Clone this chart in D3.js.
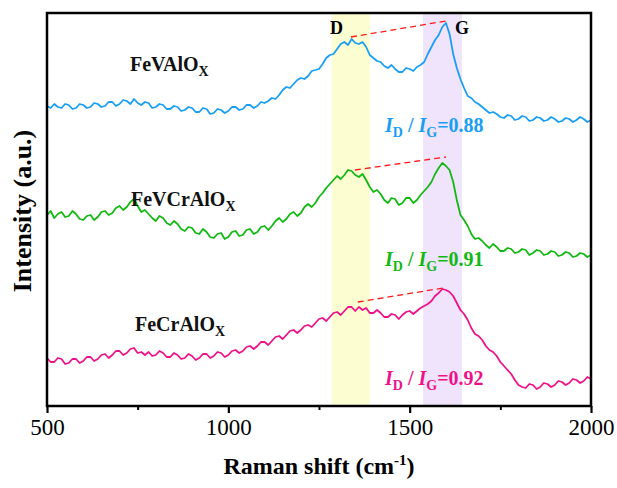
<!DOCTYPE html>
<html>
<head>
<meta charset="utf-8">
<script src="https://cdn.jsdelivr.net/npm/d3@7"></script>
<style>
  body { margin: 0; background: #fff; }
  svg { display: block; font-family: "Liberation Serif", "Times New Roman", serif; }
</style>
</head>
<body>
<script>
// raman shift sampling grid (cm-1), every 10 from 500 to 2000
var shift = d3.range(500, 2001, 10)

// intensities (a.u., stacked offsets included), one per grid point
var feVAlOx = [300,298,302,299,298,302,301,297,298,302,
               301,298,299,303,302,299,300,304,304,300,
               302,306,305,302,307,303,301,304,303,298,
               299,302,301,297,297,300,299,295,296,299,
               298,294,294,298,297,292,293,297,296,293,
               295,299,299,296,297,301,301,298,300,304,
               303,305,308,307,311,316,319,318,322,326,
               328,327,330,335,336,337,342,348,351,352,
               357,362,364,361,367,363,362,364,359,351,
               348,345,344,340,338,341,337,334,334,338,
               337,335,339,341,344,352,359,366,371,379,
               383,372,352,338,327,318,310,308,304,302,
               299,296,293,294,292,289,288,291,290,286,
               287,290,289,285,286,289,288,285,286,289,
               287,284,285,288,287,284,286,289,287,284,
               286]
var feVCrAlOx = [191,195,188,192,194,189,190,195,192,187,
                 186,190,191,186,189,194,195,191,193,198,
                 200,196,199,204,207,200,194,196,192,188,
                 185,190,188,183,181,185,182,177,175,179,
                 178,173,172,177,174,169,168,172,173,167,
                 169,174,175,170,171,176,177,172,174,179,
                 180,176,180,185,188,184,187,192,194,190,
                 193,199,202,199,203,209,213,218,222,226,
                 230,227,231,236,235,231,229,232,226,219,
                 214,216,212,206,203,208,207,201,203,208,
                 208,203,206,211,215,219,224,232,238,243,
                 240,236,224,206,191,186,180,172,167,168,
                 165,161,158,162,159,155,155,158,157,153,
                 154,157,156,151,153,156,155,151,152,155,
                 154,150,151,154,153,149,150,153,152,149,
                 151]
var feCrAlOx = [48,44,44,48,47,42,43,47,47,43,
                45,49,49,45,47,51,52,48,51,55,
                55,51,53,57,58,53,54,51,54,50,
                51,55,53,49,49,53,51,47,48,52,
                50,46,48,52,52,48,50,54,53,49,
                51,55,56,53,55,59,60,57,60,64,
                64,61,65,69,70,67,71,75,76,73,
                76,80,81,79,83,87,88,85,89,93,
                94,91,95,99,99,95,99,96,98,93,
                93,96,93,89,89,92,91,87,91,94,
                95,92,95,98,100,102,105,110,113,117,
                116,114,110,103,96,92,86,78,72,70,
                66,60,56,54,50,44,40,36,32,26,
                21,19,18,22,21,17,19,23,22,19,
                21,25,24,21,23,27,26,23,25,29,
                27]

var seriesNames = ["FeVAlO", "FeVCrAlO", "FeCrAlO"]
var ratioValues = ["0.88", "0.91", "0.92"]
var colors = ["#1a9ef5", "#12b812", "#ee1289"]

var bandD = [1285, 1390]
var bandG = [1537, 1644]
// D -> G dashed guide lines [shift, intensity]
var guideLines = [
  [[1338, 369], [1600, 385]],
  [[1349, 236], [1600, 249]],
  [[1357, 104], [1592, 118]]
]

var majorTicks = [500, 1000, 1500, 2000]
var minorTicks = [750, 1250, 1750]

var width = 617
var height = 488
var padL = 47, padR = 591, padT = 13, padB = 406

var svg = d3.select("body")
            .append("svg")
            .attr("width", width)
            .attr("height", height)

var xScale = d3.scaleLinear()
               .domain([500, 2000])
               .range([padL, padR])
var yScale = d3.scaleLinear()
               .domain([0, 393])
               .range([padB, padT])

// shaded D and G bands
svg.append("rect")
   .attr("x", xScale(bandD[0]))
   .attr("y", padT)
   .attr("width", xScale(bandD[1]) - xScale(bandD[0]))
   .attr("height", padB - padT)
   .attr("fill", "#fdfdd2")
svg.append("rect")
   .attr("x", xScale(bandG[0]))
   .attr("y", padT)
   .attr("width", xScale(bandG[1]) - xScale(bandG[0]))
   .attr("height", padB - padT)
   .attr("fill", "#efe4fb")

var seriesData = [feVAlOx, feVCrAlOx, feCrAlOx]
var line = d3.line()
             .x(function(d, i) {return xScale(shift[i]);})
             .y(function(d) {return yScale(d);})

svg.append("g")
   .selectAll("path")
   .data(seriesData)
   .enter()
   .append("path")
   .attr("d", function(d) {return line(d);})
   .attr("fill", "none")
   .attr("stroke", function(d, i) {return colors[i];})
   .attr("stroke-width", 1.8)
   .attr("stroke-linejoin", "round")

svg.append("g")
   .selectAll("line")
   .data(guideLines)
   .enter()
   .append("line")
   .attr("x1", function(d) {return xScale(d[0][0]);})
   .attr("y1", function(d) {return yScale(d[0][1]);})
   .attr("x2", function(d) {return xScale(d[1][0]);})
   .attr("y2", function(d) {return yScale(d[1][1]);})
   .attr("stroke", "#ff1a1a")
   .attr("stroke-width", 1.3)
   .attr("stroke-dasharray", "6,4")

// frame
svg.append("rect")
   .attr("x", padL)
   .attr("y", padT)
   .attr("width", padR - padL)
   .attr("height", padB - padT)
   .attr("fill", "none")
   .attr("stroke", "#000")
   .attr("stroke-width", 2.5)

// bottom axis
var xAxis = svg.append("g")
               .attr("transform", "translate(0," + padB + ")")
               .call(d3.axisBottom(xScale)
                       .tickValues(majorTicks)
                       .tickSize(7)
                       .tickPadding(6)
                       .tickFormat(d3.format("d")))
xAxis.select(".domain").remove()
xAxis.selectAll("line").attr("stroke-width", 2.2)
xAxis.selectAll("text")
     .style("font-family", "Liberation Serif")
     .style("font-size", "23px")
     .attr("fill", "#000")

var xMinor = svg.append("g")
                .attr("transform", "translate(0," + padB + ")")
                .call(d3.axisBottom(xScale)
                        .tickValues(minorTicks)
                        .tickSize(4)
                        .tickFormat(""))
xMinor.select(".domain").remove()
xMinor.selectAll("line").attr("stroke-width", 2)

// axis titles
var xTitle = svg.append("text")
                .attr("x", (padL + padR) / 2)
                .attr("y", 474)
                .attr("text-anchor", "middle")
                .style("font-size", "24px")
                .style("font-weight", "bold")
xTitle.append("tspan").text("Raman shift (cm")
xTitle.append("tspan").attr("dy", -9).style("font-size", "15px").text("-1")
xTitle.append("tspan").attr("dy", 9).text(")")

svg.append("text")
   .attr("transform", "translate(31,211) rotate(-90)")
   .attr("text-anchor", "middle")
   .style("font-size", "26px")
   .style("font-weight", "bold")
   .text("Intensity (a.u.)")

// D / G letters
svg.append("text")
   .attr("x", 330).attr("y", 34)
   .style("font-size", "18px").style("font-weight", "bold")
   .text("D")
svg.append("text")
   .attr("x", 455).attr("y", 34)
   .style("font-size", "18px").style("font-weight", "bold")
   .text("G")

// sample labels
var labelPos = [[130, 71], [131, 206], [135, 331]]
seriesNames.forEach(function(name, i) {
  var t = svg.append("text")
             .attr("x", labelPos[i][0])
             .attr("y", labelPos[i][1])
             .style("font-size", "20px")
             .style("font-weight", "bold")
             .attr("fill", "#111")
  t.append("tspan").text(name)
  t.append("tspan").attr("dy", 5).style("font-size", "14px").text("X")
})

// ID / IG ratio labels
var ratioY = [132, 266, 385]
ratioValues.forEach(function(v, i) {
  var t = svg.append("text")
             .attr("x", 385)
             .attr("y", ratioY[i])
             .attr("fill", colors[i])
             .style("font-size", "20px")
             .style("font-weight", "bold")
  t.append("tspan").style("font-style", "italic").text("I")
  t.append("tspan").attr("dy", 5).style("font-size", "14px").text("D")
  t.append("tspan").attr("dy", -5).text(" / ")
  t.append("tspan").style("font-style", "italic").text("I")
  t.append("tspan").attr("dy", 5).style("font-size", "14px").text("G")
  t.append("tspan").attr("dy", -5).text("=" + v)
})
</script>
</body>
</html>
